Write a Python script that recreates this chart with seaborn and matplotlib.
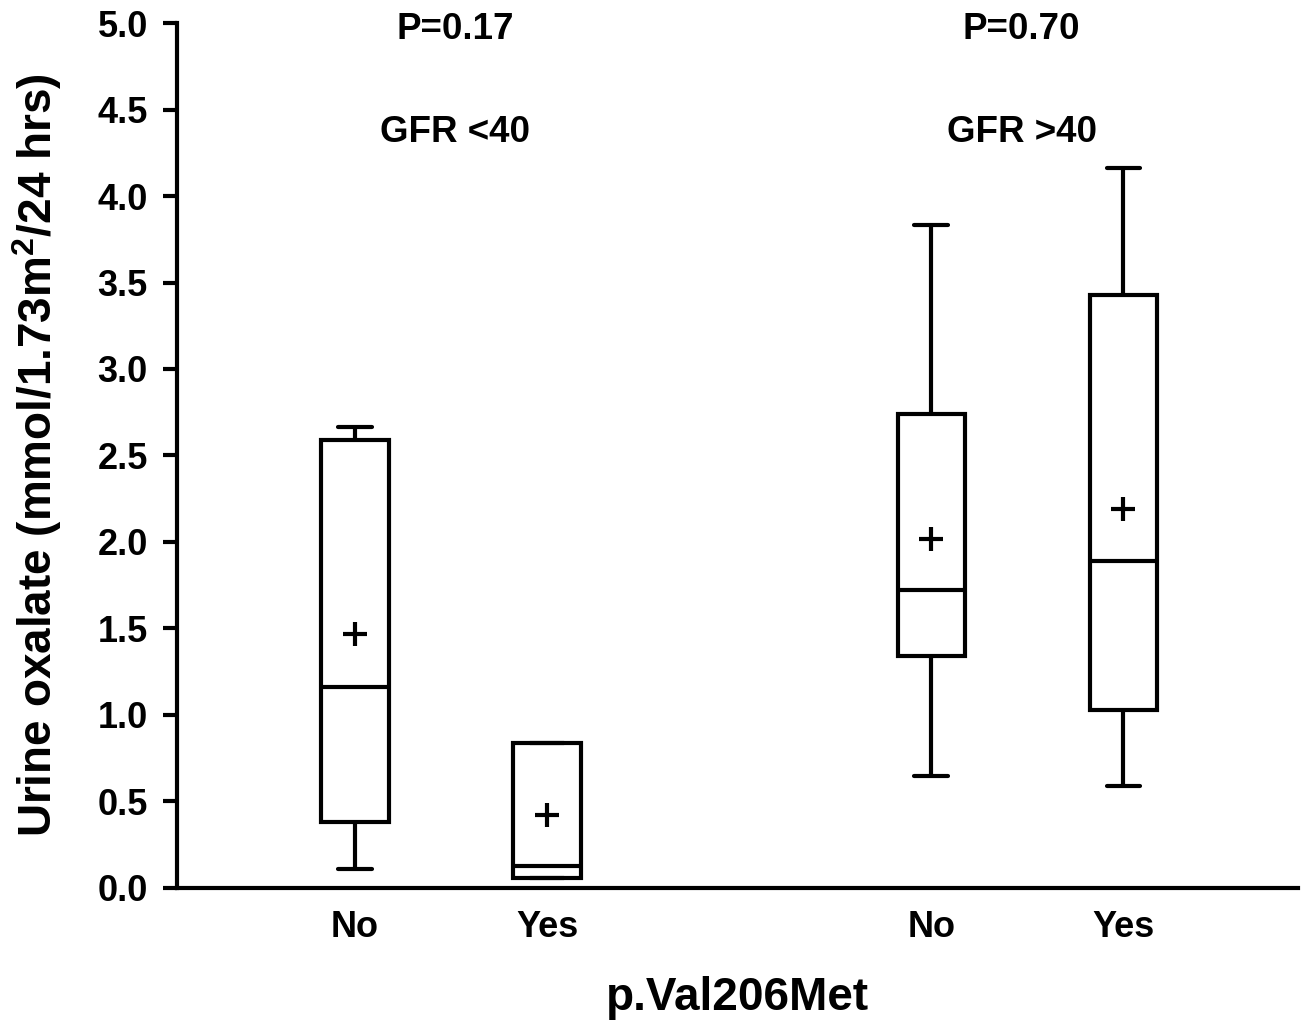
import matplotlib
matplotlib.use('Agg')
import matplotlib.pyplot as plt
import seaborn as sns
import pandas as pd

# group positions and labels
positions = [1, 2, 4, 5]
tick_labels = ['No', 'Yes', 'No', 'Yes']

# box summaries (mmol/1.73m2/24 hrs)
whisker_low = [0.11, 0.058, 0.65, 0.59]
q1 = [0.38, 0.058, 1.34, 1.03]
median = [1.16, 0.127, 1.72, 1.89]
q3 = [2.59, 0.84, 2.74, 3.43]
whisker_high = [2.665, 0.84, 3.83, 4.16]
means = [1.47, 0.42, 2.02, 2.19]

p_values = ['P=0.17', 'P=0.70']
gfr_labels = ['GFR <40', 'GFR >40']
group_centers = [1.52, 4.47]

# five values per group reproduce the box summary exactly
rows = []
for pos, lo, a, m, b, hi in zip(positions, whisker_low, q1, median, q3, whisker_high):
    for v in (lo, a, m, b, hi):
        rows.append({'pos': pos, 'value': v})
df = pd.DataFrame(rows)
mean_df = pd.DataFrame({'pos': positions, 'value': means})

sns.set_style('ticks')
plt.rcParams['font.family'] = ['Liberation Sans', 'DejaVu Sans']
plt.rcParams['font.weight'] = 'bold'
plt.rcParams['mathtext.fontset'] = 'custom'
plt.rcParams['mathtext.bf'] = 'Liberation Sans:bold'
for key in ['text.color', 'axes.labelcolor', 'xtick.color', 'ytick.color', 'axes.edgecolor']:
    plt.rcParams[key] = 'black'

fig = plt.figure(figsize=(13.06, 10.23), dpi=100)
ax = fig.add_axes([0.1355, 0.132, 0.994 - 0.1355, 0.9775 - 0.132])

lw = 3.0
sns.boxplot(data=df, x='pos', y='value', native_scale=True, width=0.35,
            whis=(0, 100), color='white', linecolor='black', linewidth=lw,
            showfliers=False, ax=ax)
sns.scatterplot(data=mean_df, x='pos', y='value', marker='+', s=300,
                color='black', linewidth=3.0, ax=ax, zorder=5)

ax.set_xlim(0.073, 5.91)
ax.set_ylim(0, 5.0)
ax.set_yticks([0, 0.5, 1.0, 1.5, 2.0, 2.5, 3.0, 3.5, 4.0, 4.5, 5.0])
ax.set_yticklabels([f'{t:.1f}' for t in ax.get_yticks()], fontsize=26, fontweight='bold')
ax.set_xticks(positions)
ax.set_xticklabels(tick_labels, fontsize=26, fontweight='bold')
ax.tick_params(axis='x', length=0, pad=16)
ax.tick_params(axis='y', length=10, width=lw, direction='out', pad=11)

for side in ['top', 'right']:
    ax.spines[side].set_visible(False)
for side in ['left', 'bottom']:
    ax.spines[side].set_linewidth(lw)

ax.set_xlabel('p.Val206Met', fontsize=33, fontweight='bold', labelpad=22)
ax.set_ylabel(r'Urine oxalate (mmol/1.73m$^{\mathbf{2}}$/24 hrs)', fontsize=33,
              fontweight='bold', labelpad=24)

for cx, p, g in zip(group_centers, p_values, gfr_labels):
    ax.text(cx, 4.96, p, ha='center', va='center', fontsize=26.5, fontweight='bold', clip_on=False)
    ax.text(cx, 4.37, g, ha='center', va='center', fontsize=26.5, fontweight='bold', clip_on=False)

fig.savefig('out.png', dpi=100)
